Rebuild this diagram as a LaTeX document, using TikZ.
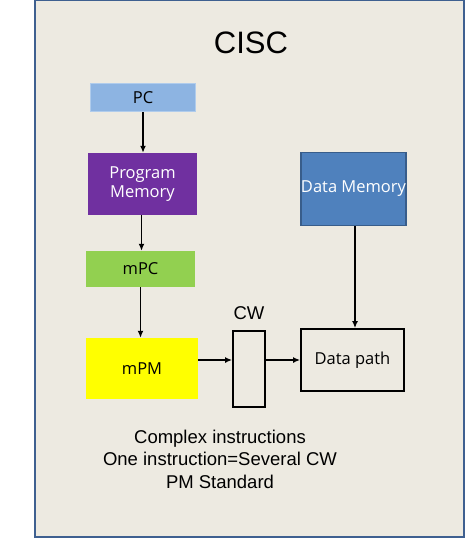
\documentclass[tikz,border=0pt]{standalone}
\usepackage{fontspec}
\setmainfont{Liberation Sans}
\newfontfamily\boxfont{Open Sans}
\usetikzlibrary{arrows.meta}
\definecolor{bgc}{HTML}{EDEAE1}
\definecolor{framec}{HTML}{3F6090}
\definecolor{pcfill}{HTML}{8DB4E2}
\definecolor{pcedge}{HTML}{B0CCEC}
\definecolor{pmfill}{HTML}{7030A0}
\definecolor{mpcfill}{HTML}{92D050}
\definecolor{mpmfill}{HTML}{FFFF00}
\definecolor{dmfill}{HTML}{4F81BD}
\definecolor{dmedge}{HTML}{385D8A}
\begin{document}
\begin{tikzpicture}[x=1pt,y=-1pt,
  blk/.style={rectangle, inner sep=0pt, font=\boxfont\fontsize{16.5}{19}\selectfont, align=center},
  conn/.style={line width=1.7pt, -{Latex[length=7pt,width=6pt]}},
  lbl/.style={font=\fontsize{18.5}{22.5}\selectfont, align=center, inner sep=0pt}]
\useasboundingbox (0,0) rectangle (474,538);
\fill[white] (0,0) rectangle (474,538);
\draw[framec, line width=2pt, fill=bgc] (35,0) rectangle (464,537);
\node[lbl, font=\fontsize{31}{36}\selectfont] (title) at (251,43) {CISC};
\node[blk, fill=pcfill, draw=pcedge, line width=1.5pt, minimum width=105pt, minimum height=28pt] (pc) at (143,97.5) {PC};
\node[blk, fill=pmfill, text=white, minimum width=109pt, minimum height=62pt] (pm) at (142.5,184) {Program\\Memory};
\node[blk, fill=mpcfill, minimum width=109pt, minimum height=36pt] (mpc) at (140.5,269) {mPC};
\node[blk, fill=mpmfill, minimum width=112pt, minimum height=61pt] (mpm) at (142,368.5) {mPM};
\node[blk, draw=black, line width=1.8pt, fill=bgc, minimum width=32pt, minimum height=76pt] (cw) at (249,369) {};
\node[lbl] (cwl) at (249,313) {CW};
\node[blk, draw=black, line width=1.8pt, fill=bgc, minimum width=103pt, minimum height=62pt] (dp) at (352.5,360) {Data path};
\node[blk, fill=dmfill, draw=dmedge, line width=1.5pt, text=white, minimum width=105pt, minimum height=73pt] (dm) at (353.5,189) {Data Memory};
\draw[conn] (pc.south) -- (pc.south |- pm.north);
\draw[conn] ([xshift=-1pt]pm.south) -- ([xshift=-1pt]pm.south |- mpc.north);
\draw[conn] (mpc.south) -- (mpc.south |- mpm.north);
\draw[conn] ([xshift=1.5pt]dm.south) -- ([xshift=1.5pt]dm.south |- dp.north);
\draw[conn] (mpm.east |- dp.center) -- (cw.west |- dp.center);
\draw[conn] (cw.east |- dp.center) -- (dp.west);
\node[lbl] (notes) at (220,459) {Complex instructions\\One instruction=Several CW\\PM Standard};
\end{tikzpicture}
\end{document}
